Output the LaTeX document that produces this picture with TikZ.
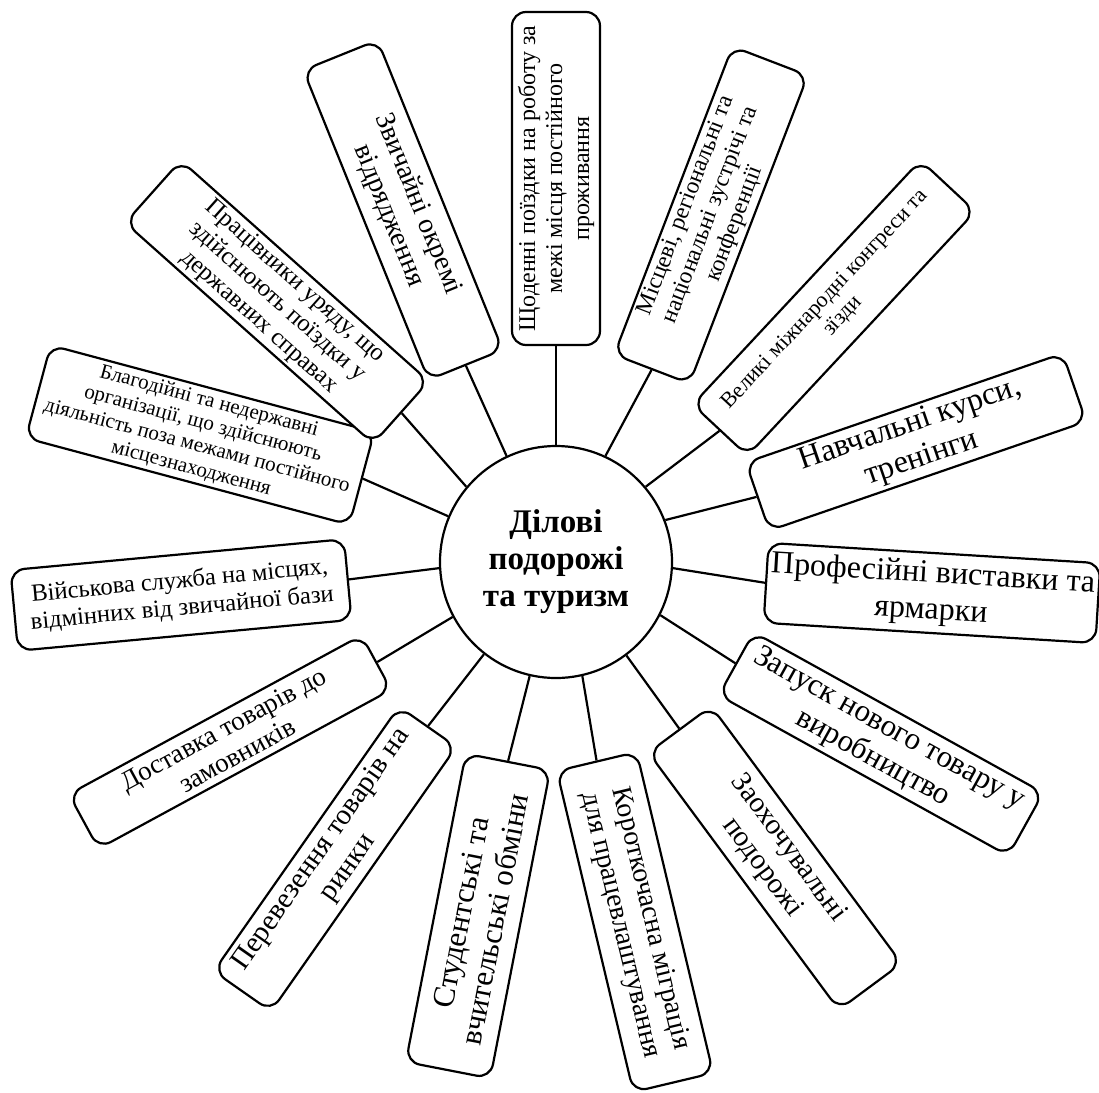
\documentclass[tikz,border=0pt]{standalone}
\usepackage{fontspec}
\setmainfont{Liberation Serif}
\usetikzlibrary{shapes.geometric}
\newcommand{\boxfnt}[2]{\fontsize{#1pt}{#2pt}\selectfont}

\begin{document}
\begin{tikzpicture}[x=0.5pt, y=-0.5pt,
  leaf/.style={draw, line width=1.1pt, rounded corners=7pt, align=center, inner sep=2pt, fill=white},
  hub/.style={draw, line width=1.1pt, circle, minimum size=116pt, align=center, inner sep=0pt, font=\bfseries\boxfnt{16.5}{18.5}},
  spoke/.style={line width=1.1pt}]
  \useasboundingbox (0,0) rectangle (1099,1093);

  % Centre
  \node[hub] (hub) at (556,562) {Ділові\\подорожі\\та туризм};

  % Boxes round the centre
  \node[leaf, rotate=90, minimum width=166.5pt, minimum height=44pt, font=\boxfnt{12}{13.5}] (daily) at (556,178.5)
    {Щоденні поїздки на роботу за\\межі місця постійного\\проживання};
  \node[leaf, rotate=-68, minimum width=167pt, minimum height=40pt, font=\boxfnt{14}{15.7}] (trips) at (403,210)
    {Звичайні окремі\\відрядження};
  \node[leaf, rotate=69, minimum width=165pt, minimum height=40pt, font=\boxfnt{11.8}{13}] (meet) at (711,215)
    {Місцеві, регіональні та\\національні зустрічі та\\конференції};
  \node[leaf, rotate=47, minimum width=167pt, minimum height=37.5pt, font=\boxfnt{11}{12.3}] (congr) at (834,308)
    {Великі міжнародні конгреси та\\зїзди};
  \node[leaf, rotate=19, minimum width=167.5pt, minimum height=36pt, font=\boxfnt{16}{17.8}] (course) at (916,442)
    {Навчальні курси,\\тренінги};
  \node[leaf, rotate=-3.5, minimum width=166pt, minimum height=40pt, font=\boxfnt{16}{18}] (fair) at (932,593)
    {Професійні виставки та\\ярмарки};
  \node[leaf, rotate=-29, minimum width=165.5pt, minimum height=36pt, font=\boxfnt{15.5}{17}] (launch) at (881,744)
    {Запуск нового товару у\\виробництво};
  \node[leaf, rotate=-53.5, minimum width=160pt, minimum height=39pt, font=\boxfnt{14.5}{16.2}] (incent) at (775,858)
    {Заохочувальні\\подорожі};
  \node[leaf, rotate=-76.6, minimum width=165pt, minimum height=41pt, font=\boxfnt{14}{15.5}] (migr) at (635,922)
    {Короткочасна міграція\\для працевлаштування};
  \node[leaf, rotate=79, minimum width=157pt, minimum height=43pt, font=\boxfnt{15.5}{17.2}] (exch) at (478,916)
    {Студентські та\\вчительські обміни};
  \node[leaf, rotate=55, minimum width=161.5pt, minimum height=35pt, font=\boxfnt{14.5}{16}] (haul) at (335,859)
    {Перевезення товарів на\\ринки};
  \node[leaf, rotate=28.5, minimum width=166.5pt, minimum height=31pt, font=\boxfnt{13.5}{15}] (deliv) at (230,742)
    {Доставка товарів до\\замовників};
  \node[leaf, rotate=5.3, minimum width=167.5pt, minimum height=40.5pt, font=\boxfnt{12.3}{13.7}] (army) at (181,595)
    {Військова служба на місцях,\\відмінних від звичайної бази};
  \node[leaf, rotate=-15, minimum width=167.5pt, minimum height=39pt, font=\boxfnt{10.5}{11.6}] (ngo) at (200,435)
    {Благодійні та недержавні\\організації, що здійснюють\\діяльність поза межами постійного\\місцезнаходження};
  \node[leaf, rotate=-41.7, minimum width=166pt, minimum height=35pt, font=\boxfnt{12.3}{13.5}] (gov) at (277,302)
    {Працівники уряду, що\\здійснюють поїздки у\\державних справах};

  % Spokes
  \draw[spoke] (hub.90) -- (daily.west);
  \draw[spoke] (hub.115) -- (trips.east);
  \draw[spoke] (hub.65) -- (meet.west);
  \draw[spoke] (hub.40) -- (congr.west);
  \draw[spoke] (hub.21) -- (course.west);
  \draw[spoke] (hub.-3) -- (fair.west);
  \draw[spoke] (hub.-27) -- (launch.west);
  \draw[spoke] (hub.-53) -- (incent.west);
  \draw[spoke] (hub.-77) -- (migr.west);
  \draw[spoke] (hub.-103) -- (exch.east);
  \draw[spoke] (hub.-128) -- (haul.east);
  \draw[spoke] (hub.-152) -- (deliv.east);
  \draw[spoke] (hub.183) -- (army.east);
  \draw[spoke] (hub.157) -- (ngo.east);
  \draw[spoke] (hub.140) -- (gov.east);
\end{tikzpicture}
\end{document}
